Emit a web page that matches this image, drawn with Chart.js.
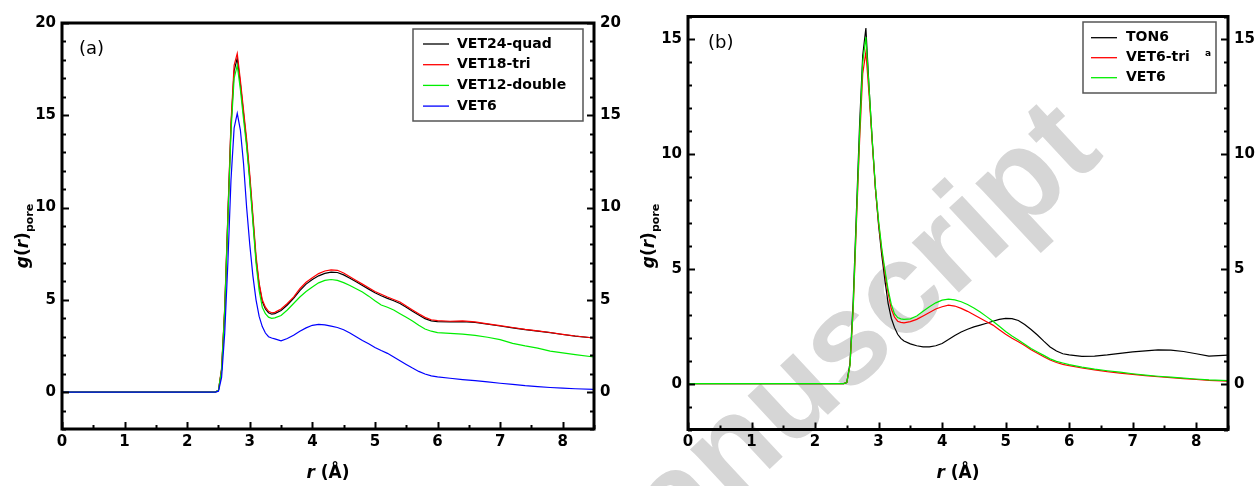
<!DOCTYPE html>
<html>
<head>
<meta charset="utf-8">
<script src="https://cdn.jsdelivr.net/npm/chart.js@4.4.0/dist/chart.umd.min.js"></script>
<style>
  html, body { margin: 0; padding: 0; background: #fff; }
  #wrap { position: relative; width: 1257px; height: 486px; overflow: hidden; }
  #wm {
    position: absolute; left: 550px; top: 396px;
    font: bold 130px "Liberation Sans", Arial, sans-serif; line-height: 130px;
    color: #d6d6d6; white-space: nowrap;
    transform-origin: 180px 110px; transform: rotate(-43deg);
  }
  canvas { position: absolute; top: 0; }
  #cA { left: 0; }
  #cB { left: 629px; }
</style>
</head>
<body>
<div id="wrap">
  <div id="wm">Manuscript</div>
  <canvas id="cA" width="629" height="486"></canvas>
  <canvas id="cB" width="628" height="486"></canvas>
</div>
<script>
// r grid (Å), shared by both panels
const rVals = [0,2.45,2.5,2.55,2.6,2.65,2.7,2.75,2.8,2.85,2.9,2.95,3.0,3.05,3.1,3.15,3.2,3.25,3.3,3.35,3.4,
  3.5,3.6,3.7,3.8,3.9,4.0,4.1,4.2,4.3,4.4,4.5,4.6,4.7,4.8,4.9,5.0,5.1,5.2,5.3,5.4,5.5,5.6,5.7,5.8,5.9,6.0,
  6.2,6.4,6.6,6.8,7.0,7.2,7.4,7.6,7.8,8.0,8.2,8.5];

// panel (a)
const vet24quad = [0,0,0.1,1.2,4.5,9.5,14.4,17.4,18.1,16.7,15.1,13.5,11.6,9.4,7.2,5.8,4.9,4.5,4.3,4.22,4.25,
  4.42,4.72,5.08,5.5,5.85,6.1,6.3,6.43,6.5,6.48,6.35,6.17,5.98,5.78,5.58,5.38,5.22,5.08,4.95,4.8,4.6,4.38,4.18,3.98,3.86,3.82,
  3.81,3.82,3.77,3.68,3.58,3.48,3.38,3.3,3.22,3.12,3.03,2.93];
const vet18tri = [0,0,0.1,1.3,4.6,9.6,14.6,17.7,18.35,16.9,15.3,13.7,11.8,9.6,7.4,5.9,5.0,4.6,4.38,4.3,4.32,
  4.5,4.8,5.15,5.6,5.95,6.2,6.42,6.56,6.62,6.6,6.45,6.25,6.05,5.85,5.65,5.45,5.3,5.15,5.02,4.88,4.66,4.45,4.24,4.05,3.92,3.87,
  3.84,3.86,3.8,3.7,3.6,3.5,3.4,3.32,3.23,3.13,3.04,2.93];
const vet12double = [0,0,0.1,1.2,4.4,9.3,14.1,17.0,17.7,16.4,14.8,13.3,11.4,9.2,7.0,5.5,4.6,4.25,4.06,4.0,4.02,
  4.15,4.45,4.8,5.15,5.45,5.7,5.92,6.05,6.1,6.05,5.93,5.78,5.6,5.42,5.2,4.95,4.72,4.6,4.45,4.25,4.05,3.85,3.62,3.42,3.3,3.22,
  3.18,3.14,3.07,2.97,2.84,2.64,2.5,2.38,2.22,2.13,2.03,1.9];
const vet6a = [0,0,0.05,0.8,3.2,7.0,11.5,14.3,15.1,14.2,12.4,10.0,8.0,6.3,5.0,4.1,3.55,3.2,3.0,2.93,2.88,
  2.78,2.9,3.08,3.3,3.48,3.62,3.67,3.64,3.57,3.5,3.38,3.2,3.0,2.8,2.62,2.42,2.25,2.1,1.9,1.7,1.5,1.3,1.12,0.98,0.88,0.82,
  0.75,0.68,0.62,0.55,0.48,0.42,0.35,0.3,0.25,0.21,0.18,0.15];

// panel (b)
const ton6 = [0,0,0.05,0.9,3.6,7.4,11.2,14.3,15.5,12.9,10.6,8.5,6.9,5.6,4.5,3.5,2.85,2.45,2.15,1.97,1.86,
  1.73,1.65,1.6,1.6,1.65,1.75,1.92,2.1,2.25,2.37,2.47,2.55,2.63,2.72,2.8,2.84,2.83,2.75,2.58,2.36,2.12,1.85,1.6,1.42,1.3,1.25,
  1.19,1.2,1.25,1.32,1.38,1.43,1.47,1.46,1.4,1.3,1.2,1.24];
const vet6tri = [0,0,0.05,0.8,3.2,6.9,10.5,13.5,14.45,12.6,10.5,8.5,7.0,5.8,4.8,3.95,3.25,2.9,2.72,2.67,2.65,
  2.7,2.8,2.95,3.1,3.25,3.35,3.42,3.38,3.28,3.15,3.0,2.85,2.7,2.55,2.35,2.15,1.98,1.82,1.66,1.48,1.32,1.17,1.03,0.92,0.84,0.78,
  0.68,0.6,0.52,0.46,0.4,0.35,0.3,0.26,0.22,0.18,0.14,0.11];
const vet6b = [0,0,0.05,0.8,3.3,7.1,10.8,14.0,15.1,12.9,10.6,8.6,7.1,5.9,4.95,4.1,3.45,3.05,2.88,2.82,2.8,
  2.82,2.95,3.15,3.35,3.52,3.64,3.68,3.65,3.57,3.45,3.3,3.12,2.92,2.72,2.5,2.27,2.08,1.9,1.72,1.53,1.38,1.23,1.08,0.97,0.9,0.83,
  0.72,0.63,0.56,0.5,0.43,0.37,0.32,0.28,0.24,0.2,0.16,0.13];

const labelsA = ['VET24-quad', 'VET18-tri', 'VET12-double', 'VET6'];
const labelsB = ['TON6', 'VET6-tri', 'VET6'];
const xTicks  = [0,1,2,3,4,5,6,7,8];
const yTicksA = [0,5,10,15,20];
const yTicksB = [0,5,10,15];

Chart.defaults.font.family = "'DejaVu Sans', Verdana, sans-serif";
Chart.defaults.color = '#000';

const pts = (ys) => rVals.map((r,i) => ({x:r, y:ys[i]}));
const ds = (label, ys, color, order) => ({
  label, data: pts(ys), borderColor: color, borderWidth: 1.2,
  pointRadius: 0, tension: 0, fill: false, order
});

const decor = {
  id: 'decor',
  afterDraw(chart, args, o) {
    const {ctx, chartArea: a, scales: {x, y}} = chart;
    const seg = (x1,y1,x2,y2) => { ctx.beginPath(); ctx.moveTo(x1,y1); ctx.lineTo(x2,y2); ctx.stroke(); };
    ctx.save();
    ctx.strokeStyle = '#000';
    ctx.lineWidth = 2;
    // inward ticks
    for (let v = 0; v <= x.max + 1e-9; v += 0.5) {
      const px = Math.round(x.getPixelForValue(v)) + 0.5;
      const len = Number.isInteger(v) ? 7 : 4;
      seg(px, a.bottom, px, a.bottom - len);
    }
    for (let v = y.min; v <= y.max + 1e-9; v += 1) {
      const py = Math.round(y.getPixelForValue(v)) + 0.5;
      const len = (v % 5 === 0) ? 7 : 4;
      seg(a.left, py, a.left + len, py);
      seg(a.right, py, a.right - len, py);
    }
    // frame
    ctx.lineWidth = 3;
    ctx.strokeRect(a.left, a.top, a.right - a.left, a.bottom - a.top);

    // legend box
    const L = o.legend;
    ctx.lineWidth = 1.5;
    ctx.strokeStyle = '#555';
    ctx.strokeRect(L.x, L.y, L.w, L.h);
    ctx.font = "bold 14px 'DejaVu Sans'";
    ctx.textBaseline = 'middle';
    ctx.textAlign = 'left';
    chart.data.datasets.forEach((d, i) => {
      const yy = L.row0 + i * L.rowH;
      ctx.strokeStyle = d.borderColor;
      ctx.lineWidth = 1.3;
      seg(L.x + L.l0, yy, L.x + L.l1, yy);
      ctx.fillStyle = '#000';
      ctx.fillText(d.label, L.x + L.t, yy);
    });
    if (o.note) {
      ctx.font = "bold 9px 'DejaVu Sans'";
      ctx.fillText(o.note.text, o.note.x, o.note.y);
    }

    // panel label
    ctx.font = "18px 'DejaVu Sans'";
    ctx.fillText(o.tag.text, o.tag.x, o.tag.y);

    // x title: r (Å)
    const cx = (a.left + a.right) / 2;
    ctx.font = "italic bold 17px 'DejaVu Sans'";
    const w1 = ctx.measureText('r').width;
    ctx.font = "bold 17px 'DejaVu Sans'";
    const w2 = ctx.measureText(' (Å)').width;
    let sx = cx - (w1 + w2) / 2;
    ctx.font = "italic bold 17px 'DejaVu Sans'";
    ctx.fillText('r', sx, 474);
    ctx.font = "bold 17px 'DejaVu Sans'";
    ctx.fillText(' (Å)', sx + w1, 474);

    // y title: g(r)pore
    const parts = [
      ['g', "italic bold 17px 'DejaVu Sans'", 0],
      ['(', "bold 17px 'DejaVu Sans'", 0],
      ['r', "italic bold 17px 'DejaVu Sans'", 0],
      [')', "bold 17px 'DejaVu Sans'", 0],
      ['pore', "bold 11px 'DejaVu Sans'", 5]
    ];
    let tot = 0;
    parts.forEach(p => { ctx.font = p[1]; p.push(ctx.measureText(p[0]).width); tot += p[3]; });
    ctx.translate(o.ytitle.x, o.ytitle.y);
    ctx.rotate(-Math.PI / 2);
    ctx.textBaseline = 'alphabetic';
    let px = -tot / 2;
    parts.forEach(p => { ctx.font = p[1]; ctx.fillText(p[0], px, 6 + p[2]); px += p[3]; });
    ctx.restore();
  }
};

function makePanel(id, sets, yMin, yMax, yTicks, box, deco) {
  const tickFont = {size: 15, weight: 'bold'};
  const yScale = (pos, w) => ({
    type: 'linear', position: pos, min: yMin, max: yMax,
    grid: {display: false, drawTicks: false}, border: {display: false},
    ticks: {font: tickFont, padding: 6, color: '#000'},
    afterBuildTicks: s => { s.ticks = yTicks.map(v => ({value: v})); },
    afterFit: s => { s.width = w; }
  });
  return new Chart(document.getElementById(id), {
    type: 'line',
    data: {datasets: sets},
    options: {
      responsive: false, animation: false,
      layout: {padding: {top: box.top, left: 0, right: 0, bottom: 0}},
      plugins: {legend: {display: false}, tooltip: {enabled: false}, decor: deco},
      scales: {
        x: {
          type: 'linear', min: 0, max: 8.5,
          grid: {display: false, drawTicks: false}, border: {display: false},
          ticks: {font: tickFont, padding: 4, color: '#000', maxRotation: 0},
          afterBuildTicks: s => { s.ticks = xTicks.map(v => ({value: v})); },
          afterFit: s => { s.height = box.bottomH; }
        },
        y: yScale('left', box.left),
        y2: yScale('right', box.right)
      }
    },
    plugins: [decor]
  });
}

makePanel('cA', [
  ds(labelsA[0], vet24quad, '#000000', 4),
  ds(labelsA[1], vet18tri, '#ff0000', 3),
  ds(labelsA[2], vet12double, '#00ee00', 2),
  ds(labelsA[3], vet6a, '#0000ff', 1)
], -2, 20, yTicksA, {top: 23, bottomH: 57, left: 62, right: 35}, {
  legend: {x: 413, y: 29, w: 170, h: 92, row0: 44, rowH: 20.7, l0: 10, l1: 36, t: 44},
  tag: {text: '(a)', x: 79, y: 49},
  ytitle: {x: 22, y: 236}
});

makePanel('cB', [
  ds(labelsB[0], ton6, '#000000', 3),
  ds(labelsB[1], vet6tri, '#ff0000', 2),
  ds(labelsB[2], vet6b, '#00ee00', 1)
], -2, 16, yTicksB, {top: 16.5, bottomH: 56.5, left: 59, right: 29}, {
  legend: {x: 454, y: 22, w: 133, h: 71, row0: 37.7, rowH: 20, l0: 8, l1: 34, t: 43},
  note: {text: 'a', x: 576, y: 54},
  tag: {text: '(b)', x: 79, y: 43},
  ytitle: {x: 19, y: 236}
});
</script>
</body>
</html>
